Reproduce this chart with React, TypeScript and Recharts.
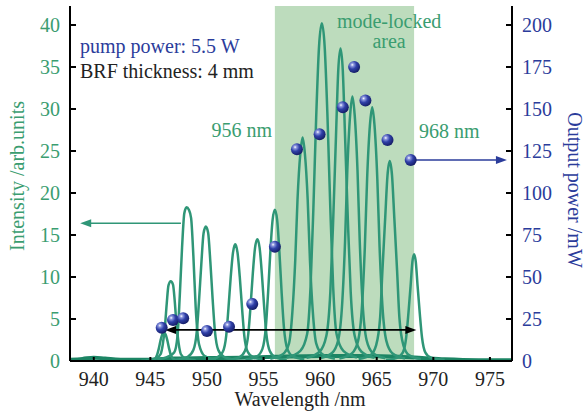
import { ComposedChart, Line, Scatter, XAxis, YAxis, ReferenceArea, ReferenceLine, ReferenceDot } from "recharts"

const FONT = '"Liberation Serif", "Times New Roman", serif'
const GREEN = "#3a9d70"
const CURVE = "#2f9677"
const BASE = "#1c8564"
const BLUE = "#2b3c9b"
const SHADE = "#bddcbd"

const xTicks = [940, 945, 950, 955, 960, 965, 970, 975]
const intensityTicks = [0, 5, 10, 15, 20, 25, 30, 35, 40]
const powerTicks = [0, 25, 50, 75, 100, 125, 150, 175, 200]

// spectra, [wavelength nm, intensity a.u.]
const peak946a: [number, number][] = [
  [944.2, 0.03], [945.0, 0.1], [945.4, 0.27], [945.6, 0.75], [945.75, 1.5], [945.9, 2.45], [946.05, 3.15], [946.2, 3.4],
  [946.35, 3.15], [946.5, 2.45], [946.65, 1.5], [946.8, 0.75], [947.0, 0.27], [947.4, 0.1], [948.2, 0.03],
]
const peak947: [number, number][] = [
  [944.6, 0.08], [945.5, 0.3], [945.9, 0.8], [946.1, 2.0], [946.3, 4.3], [946.45, 6.9], [946.6, 9.0], [946.8, 9.5],
  [947.0, 9.1], [947.15, 7.2], [947.3, 4.5], [947.5, 2.1], [947.7, 0.8], [948.1, 0.3], [949.0, 0.08],
]
const peak948: [number, number][] = [
  [945.6, 0.18], [946.6, 0.55], [947.1, 1.0], [947.4, 3.0], [947.6, 7.8], [947.8, 13.5], [948.0, 17.6], [948.2, 18.3],
  [948.4, 18.0], [948.6, 17.0], [948.8, 12.5], [949.0, 6.5], [949.3, 2.0], [949.8, 0.6], [950.8, 0.18],
]
const peak950: [number, number][] = [
  [947.3, 0.16], [948.3, 0.5], [948.8, 1.3], [949.1, 3.5], [949.3, 7.2], [949.5, 11.5], [949.7, 15.2], [949.9, 16.0],
  [950.1, 15.3], [950.3, 11.8], [950.5, 7.4], [950.7, 3.6], [951.0, 1.3], [951.5, 0.5], [952.5, 0.16],
]
const peak952: [number, number][] = [
  [949.9, 0.14], [950.9, 0.42], [951.4, 1.1], [951.7, 3.0], [951.9, 6.3], [952.1, 10.0], [952.3, 12.9], [952.5, 13.9],
  [952.7, 12.9], [952.9, 10.0], [953.1, 6.3], [953.3, 3.0], [953.6, 1.1], [954.1, 0.42], [955.1, 0.14],
]
const peak954: [number, number][] = [
  [951.85, 0.15], [952.85, 0.44], [953.35, 1.2], [953.65, 3.2], [953.85, 6.5], [954.05, 10.4], [954.25, 13.5], [954.45, 14.5],
  [954.65, 13.5], [954.85, 10.4], [955.05, 6.5], [955.25, 3.2], [955.55, 1.2], [956.05, 0.44], [957.05, 0.15],
]
const peak956: [number, number][] = [
  [953.4, 0.18], [954.4, 0.54], [954.9, 1.45], [955.2, 4.0], [955.4, 8.1], [955.6, 13.0], [955.8, 16.8], [956.0, 18.0],
  [956.2, 16.8], [956.4, 13.0], [956.6, 8.1], [956.8, 4.0], [957.1, 1.45], [957.6, 0.54], [958.6, 0.18],
]
const peak958: [number, number][] = [
  [955.6, 0.27], [956.7, 0.8], [957.25, 2.1], [957.55, 5.9], [957.8, 12.0], [958.0, 19.2], [958.25, 24.7], [958.45, 26.6],
  [958.65, 24.7], [958.9, 19.2], [959.1, 12.0], [959.35, 5.9], [959.65, 2.1], [960.2, 0.8], [961.3, 0.27],
]
const peak960: [number, number][] = [
  [957.05, 0.4], [958.25, 1.2], [958.85, 3.2], [959.15, 8.8], [959.4, 18.1], [959.65, 29.0], [959.9, 37.4], [960.15, 40.2],
  [960.4, 37.4], [960.65, 29.0], [960.9, 18.1], [961.15, 8.8], [961.45, 3.2], [962.05, 1.2], [963.25, 0.4],
]
const peak962a: [number, number][] = [
  [958.8, 0.37], [959.95, 1.1], [960.55, 3.0], [960.9, 8.2], [961.15, 16.7], [961.4, 26.8], [961.6, 34.6], [961.8, 37.2],
  [962.0, 34.6], [962.2, 26.8], [962.45, 16.7], [962.7, 8.2], [963.05, 3.0], [963.65, 1.1], [964.8, 0.37],
]
const peak963: [number, number][] = [
  [959.95, 0.32], [961.05, 0.95], [961.6, 2.5], [961.95, 6.9], [962.2, 14.2], [962.4, 22.7], [962.65, 29.3], [962.85, 31.5],
  [963.05, 29.3], [963.3, 22.7], [963.5, 14.2], [963.75, 6.9], [964.1, 2.5], [964.65, 0.95], [965.75, 0.32],
]
const peak965: [number, number][] = [
  [961.7, 0.3], [962.8, 0.9], [963.35, 2.4], [963.7, 6.6], [963.95, 13.6], [964.15, 21.7], [964.4, 28.1], [964.6, 30.2],
  [964.8, 28.1], [965.05, 21.7], [965.25, 13.6], [965.5, 6.6], [965.85, 2.4], [966.4, 0.9], [967.5, 0.3],
]
const peak966: [number, number][] = [
  [963.4, 0.24], [964.45, 0.7], [964.95, 1.9], [965.3, 5.2], [965.5, 10.7], [965.75, 17.1], [965.95, 22.1], [966.15, 23.8],
  [966.35, 22.1], [966.55, 17.1], [966.8, 10.7], [967.0, 5.2], [967.35, 1.9], [967.85, 0.7], [968.9, 0.24],
]
const peak968: [number, number][] = [
  [965.8, 0.13], [966.8, 0.38], [967.3, 1.0], [967.6, 2.8], [967.8, 5.7], [968.0, 9.1], [968.15, 11.8], [968.3, 12.7],
  [968.45, 11.8], [968.6, 9.1], [968.8, 5.7], [969.0, 2.8], [969.3, 1.0], [969.8, 0.38], [971.0, 0.13],
]
const baseline: [number, number][] = [
  [937.9, 0.15], [939, 0.25], [940, 0.4], [941, 0.3], [943, 0.15], [945, 0.15], [947, 0.3], [950, 0.35], [953, 0.4],
  [956, 0.5], [960, 0.6], [964, 0.6], [967, 0.5], [969, 0.35], [971, 0.2], [974, 0.1], [976.95, 0.1],
]

const spectra = [
  peak946a, peak947, peak948, peak950, peak952, peak954, peak956,
  peak958, peak960, peak962a, peak963, peak965, peak966, peak968,
]

// output power (mW) at each lasing wavelength
const powerWavelengths = [946, 947, 947.9, 950, 951.95, 954, 956, 957.95, 959.95, 962, 963, 964, 965.95, 968]
const powerValues = [19.8, 24.4, 25.4, 17.9, 20.4, 33.9, 68, 126, 135, 151, 175, 155, 131.5, 119.6]

const toPoints = (arr: [number, number][]) => arr.map(([x, y]) => ({ x, y }))
const powerData = powerWavelengths.map((x, i) => ({ x, y: powerValues[i] }))

const LeftTick = ({ x, y, payload }: any) => (
  <g>
    <line x1={x + 10} x2={x + 16} y1={y} y2={y} stroke="#000" strokeWidth={2} />
    <text x={x} y={y} dy="0.35em" textAnchor="end" fill={GREEN} fontSize={20} fontFamily={FONT}>
      {payload.value}
    </text>
  </g>
)

const RightTick = ({ x, y, payload }: any) => (
  <g>
    <line x1={x - 16} x2={x - 10} y1={y} y2={y} stroke="#000" strokeWidth={2} />
    <text x={x} y={y} dy="0.35em" textAnchor="start" fill={BLUE} fontSize={20} fontFamily={FONT}>
      {payload.value}
    </text>
  </g>
)

const BottomTick = ({ x, y, payload }: any) => (
  <g>
    <line x1={x} x2={x} y1={y - 10} y2={y - 14} stroke="#000" strokeWidth={2} />
    <text x={x} y={y} dy="0.75em" textAnchor="middle" fill="#222" fontSize={20} fontFamily={FONT}>
      {payload.value}
    </text>
  </g>
)

const Ball = ({ cx, cy }: any) => (
  <g>
    <defs>
      <radialGradient id="ball" cx="35%" cy="32%" r="70%">
        <stop offset="0%" stopColor="#ffffff" />
        <stop offset="18%" stopColor="#8d98df" />
        <stop offset="50%" stopColor="#3040a8" />
        <stop offset="100%" stopColor="#151d66" />
      </radialGradient>
    </defs>
    <circle cx={cx} cy={cy} r={6} fill="url(#ball)" />
  </g>
)

const headLeft = ({ cx, cy, fill }: any) => <path d={`M${cx},${cy} l11,-4 l0,8 z`} fill={fill} />
const headRight = ({ cx, cy, fill }: any) => <path d={`M${cx},${cy} l-11,-4 l0,8 z`} fill={fill} />

// label drawn with the shaded area so it sits on top of it
const ModeLockedLabel = ({ viewBox }: any) => {
  const cx = viewBox.x + viewBox.width - 25
  return (
    <g fontFamily={FONT} fontSize={20} fill={GREEN} textAnchor="middle">
      <text x={cx} y={viewBox.y + 22}>mode-locked</text>
      <text x={cx} y={viewBox.y + 42}>area</text>
    </g>
  )
}

const Annotations = () => (
  <g fontFamily={FONT} fontSize={20}>
    <text x={80} y={53} fill={BLUE}>pump power: 5.5 W</text>
    <text x={80} y={78} fill="#222">BRF thickness: 4 mm</text>
    <text x={272} y={137} fill={GREEN} textAnchor="end">956 nm</text>
    <text x={419} y={138} fill={GREEN}>968 nm</text>
    <text x={281} y={320} fill="#222">22 nm</text>
    <text x={300} y={406} fill="#222" textAnchor="middle">Wavelength /nm</text>
    <text transform="translate(24,176) rotate(-90)" fill={GREEN} textAnchor="middle">Intensity /arb.units</text>
    <text transform="translate(568,190) rotate(90)" fill={BLUE} textAnchor="middle">Output power /mW</text>
  </g>
)

export default function App() {
  return (
    <div style={{ position: "absolute", left: 0, top: 0, background: "#fff" }}>
      <ComposedChart width={585} height={415} margin={{ top: 6, right: 0, bottom: 0, left: 0 }} style={{ fontFamily: FONT }}>
        <XAxis
          dataKey="x"
          type="number"
          domain={[937.9, 976.95]}
          ticks={xTicks}
          allowDataOverflow
          height={54}
          axisLine={{ stroke: "#000", strokeWidth: 2 }}
          tickLine={false}
          tickSize={6}
          tickMargin={4}
          tick={<BottomTick />}
        />
        <XAxis
          xAxisId="top"
          orientation="top"
          type="number"
          domain={[937.9, 976.95]}
          height={0}
          tick={false}
          tickLine={false}
          axisLine={{ stroke: "#000", strokeWidth: 2 }}
        />
        <YAxis
          yAxisId="left"
          type="number"
          domain={[0, 42.26]}
          ticks={intensityTicks}
          allowDataOverflow
          width={70}
          axisLine={{ stroke: "#000", strokeWidth: 2 }}
          tickLine={false}
          tickSize={6}
          tickMargin={4}
          tick={<LeftTick />}
        />
        <YAxis
          yAxisId="right"
          orientation="right"
          type="number"
          domain={[0, 211.3]}
          ticks={powerTicks}
          allowDataOverflow
          width={73}
          axisLine={{ stroke: "#000", strokeWidth: 2 }}
          tickLine={false}
          tickSize={6}
          tickMargin={4}
          tick={<RightTick />}
        />
        <ReferenceArea
          yAxisId="left"
          x1={956}
          x2={968.3}
          y1={0}
          y2={42.26}
          fill={SHADE}
          fillOpacity={1}
          stroke="none"
          label={<ModeLockedLabel />}
        />
        <Line
          yAxisId="left"
          data={toPoints(baseline)}
          dataKey="y"
          type="monotone"
          stroke={BASE}
          strokeWidth={4}
          dot={false}
          isAnimationActive={false}
        />
        {spectra.map((s, i) => (
          <Line
            key={i}
            yAxisId="left"
            data={toPoints(s)}
            dataKey="y"
            type="monotone"
            stroke={CURVE}
            strokeWidth={2.5}
            dot={false}
            isAnimationActive={false}
          />
        ))}
        <ReferenceLine yAxisId="left" segment={[{ x: 947.7, y: 16.4 }, { x: 939.5, y: 16.4 }]} stroke={CURVE} strokeWidth={1.5} />
        <ReferenceDot yAxisId="left" x={938.8} y={16.4} fill={CURVE} shape={headLeft} />
        <ReferenceLine yAxisId="left" segment={[{ x: 946.9, y: 3.7 }, { x: 967.9, y: 3.7 }]} stroke="#000" strokeWidth={1.8} />
        <ReferenceDot yAxisId="left" x={946.3} y={3.7} fill="#000" shape={headLeft} />
        <ReferenceDot yAxisId="left" x={968.5} y={3.7} fill="#000" shape={headRight} />
        <ReferenceLine yAxisId="right" segment={[{ x: 968, y: 119.6 }, { x: 975.8, y: 119.6 }]} stroke={BLUE} strokeWidth={1.5} />
        <ReferenceDot yAxisId="right" x={976.5} y={119.6} fill={BLUE} shape={headRight} />
        <Scatter yAxisId="right" data={powerData} dataKey="y" shape={<Ball />} isAnimationActive={false} />
        <Annotations />
      </ComposedChart>
    </div>
  )
}
